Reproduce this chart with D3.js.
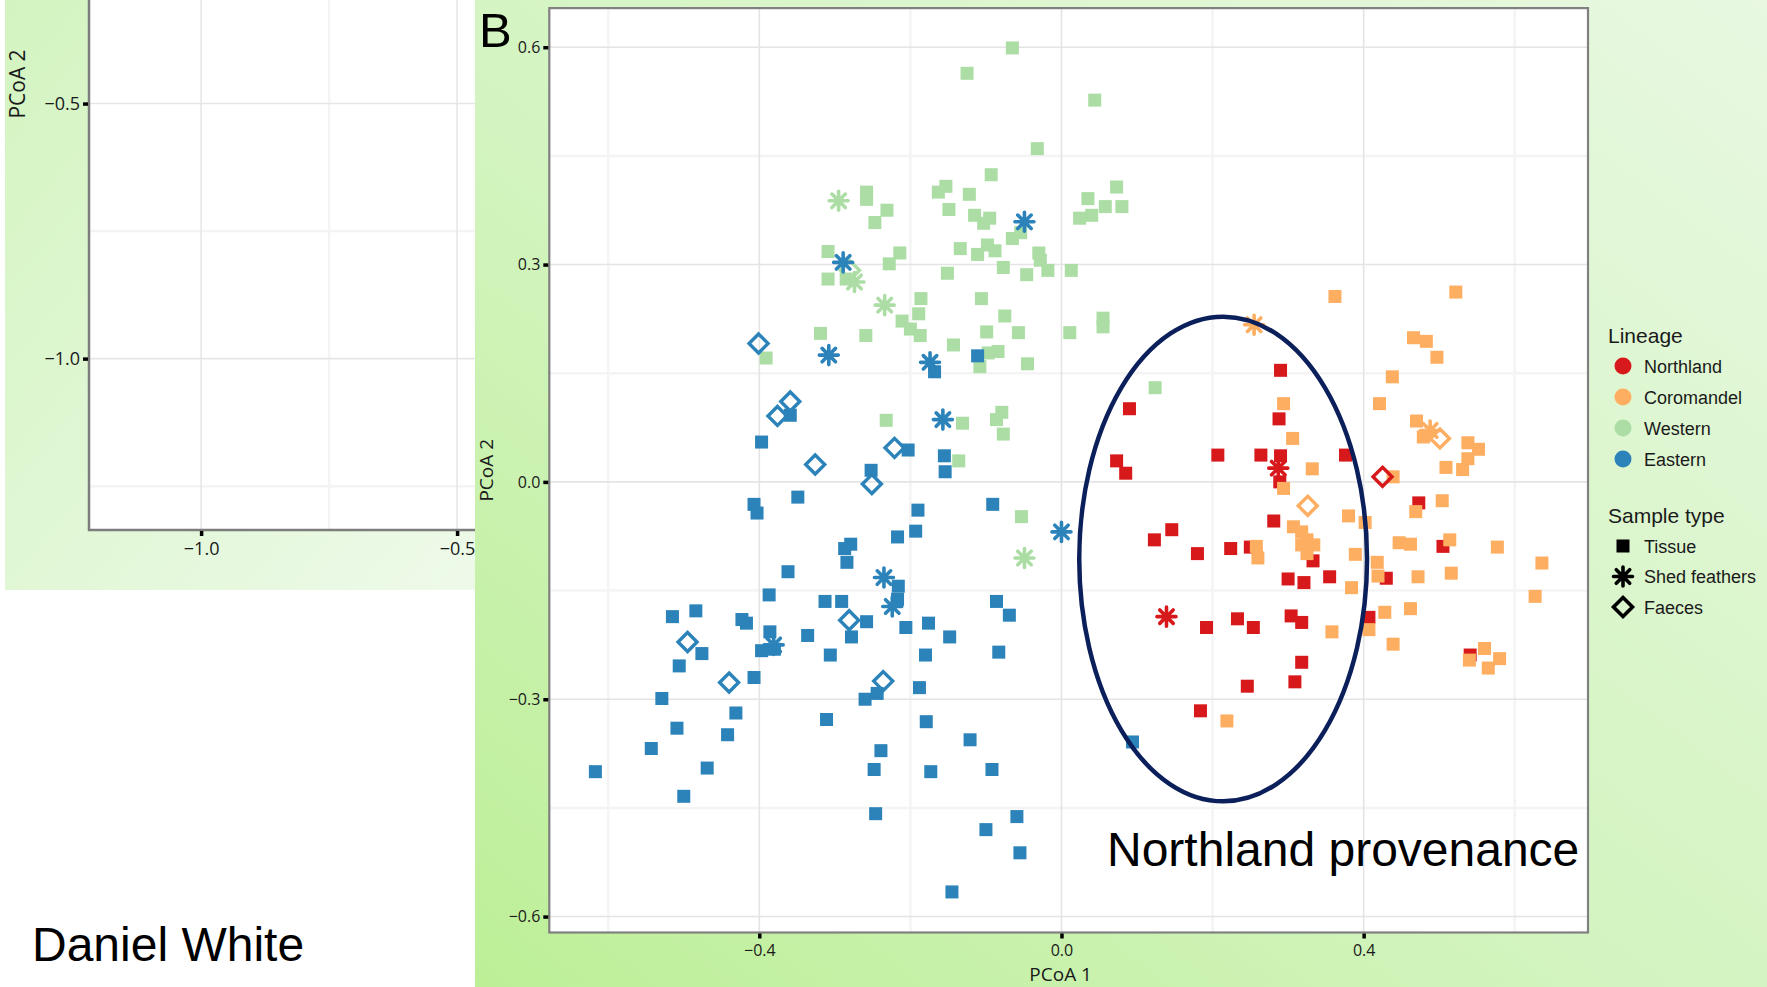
<!DOCTYPE html>
<html>
<head>
<meta charset="utf-8">
<script src="https://cdn.jsdelivr.net/npm/d3@7"></script>
<style>
  body { margin: 0; background: #fff; }
  svg { display: block; }
</style>
</head>
<body>
<svg id="chart" width="1767" height="987"></svg>
<script>
'use strict'

// PCoA coordinates, [PCoA 1, PCoA 2]
const westernTissue = [
  [-0.065, 0.599], [-0.125, 0.564], [0.044, 0.527], [-0.032, 0.460], [-0.093, 0.424],
  [-0.258, 0.400], [-0.258, 0.390], [-0.153, 0.408], [-0.163, 0.400], [-0.122, 0.397],
  [-0.231, 0.375], [-0.149, 0.376], [-0.247, 0.358], [-0.115, 0.368], [-0.095, 0.364],
  [-0.103, 0.357], [0.073, 0.407], [0.035, 0.391], [0.058, 0.380], [0.080, 0.380],
  [0.024, 0.364], [0.040, 0.368], [-0.065, 0.336], [-0.054, 0.344], [-0.134, 0.322],
  [-0.098, 0.327], [-0.088, 0.319], [-0.111, 0.314], [-0.030, 0.316], [-0.028, 0.306],
  [-0.018, 0.292], [0.013, 0.292], [-0.077, 0.296], [-0.046, 0.286], [-0.151, 0.288],
  [-0.214, 0.316], [-0.228, 0.301], [-0.309, 0.318], [-0.309, 0.280], [-0.285, 0.280],
  [-0.186, 0.253], [-0.189, 0.232], [-0.211, 0.222], [-0.200, 0.211], [-0.187, 0.202],
  [-0.106, 0.253], [-0.075, 0.229], [-0.099, 0.207], [-0.057, 0.206], [0.011, 0.206],
  [0.055, 0.226], [0.055, 0.214], [-0.319, 0.205], [-0.259, 0.202], [-0.143, 0.189],
  [-0.391, 0.171], [-0.232, 0.085], [-0.084, 0.180], [-0.097, 0.178], [-0.108, 0.159],
  [-0.045, 0.163], [0.124, 0.130], [-0.079, 0.096], [-0.086, 0.086], [-0.131, 0.081],
  [-0.077, 0.066], [-0.136, 0.029], [-0.053, -0.048]
]
const westernFeathers = [[-0.295, 0.388], [-0.274, 0.276], [-0.234, 0.244], [-0.049, -0.105]]
const westernFaeces = [[-0.280, 0.292]]

const easternTissue = [
  [-0.359, 0.092], [-0.397, 0.055], [-0.203, 0.044], [-0.155, 0.036], [-0.154, 0.014],
  [-0.252, 0.016], [-0.168, 0.152], [-0.407, -0.031], [-0.403, -0.043], [-0.349, -0.021],
  [-0.190, -0.039], [-0.193, -0.068], [-0.217, -0.076], [-0.279, -0.086], [-0.287, -0.092],
  [-0.284, -0.111], [-0.362, -0.124], [-0.216, -0.144], [-0.217, -0.162], [-0.387, -0.156],
  [-0.313, -0.165], [-0.291, -0.165], [-0.484, -0.178], [-0.515, -0.186], [-0.423, -0.190],
  [-0.417, -0.195], [-0.258, -0.193], [-0.176, -0.195], [-0.206, -0.201], [-0.111, 0.174],
  [-0.091, -0.031], [-0.086, -0.165], [-0.069, -0.184], [-0.386, -0.207], [-0.397, -0.233],
  [-0.380, -0.231], [-0.476, -0.237], [-0.506, -0.254], [-0.407, -0.270], [-0.529, -0.299],
  [-0.431, -0.319], [-0.509, -0.340], [-0.442, -0.349], [-0.543, -0.368], [-0.469, -0.395],
  [-0.617, -0.400], [-0.500, -0.434], [-0.336, -0.212], [-0.278, -0.214], [-0.306, -0.239],
  [-0.148, -0.214], [-0.180, -0.239], [-0.083, -0.235], [-0.188, -0.284], [-0.244, -0.292],
  [-0.260, -0.300], [-0.311, -0.328], [-0.179, -0.331], [-0.121, -0.356], [-0.239, -0.371],
  [-0.248, -0.397], [-0.173, -0.400], [-0.092, -0.397], [-0.246, -0.458], [-0.100, -0.480],
  [-0.145, -0.566], [-0.059, -0.462], [-0.055, -0.512], [0.094, -0.359]
]
const easternFeathers = [
  [-0.049, 0.359], [-0.289, 0.303], [-0.308, 0.175], [-0.174, 0.165], [-0.157, 0.086],
  [-0.235, -0.132], [-0.224, -0.172], [0.000, -0.069], [-0.381, -0.225]
]
const easternFaeces = [
  [-0.401, 0.191], [-0.359, 0.111], [-0.376, 0.091], [-0.326, 0.024], [-0.221, 0.047],
  [-0.251, -0.003], [-0.281, -0.191], [-0.495, -0.221], [-0.440, -0.277], [-0.236, -0.275]
]

const northlandTissue = [
  [0.090, 0.101], [0.073, 0.029], [0.085, 0.012], [0.207, 0.037], [0.146, -0.066],
  [0.123, -0.080], [0.180, -0.099], [0.224, -0.092], [0.290, 0.154], [0.288, 0.087],
  [0.264, 0.037], [0.290, 0.036], [0.376, 0.037], [0.289, 0.000], [0.281, -0.054],
  [0.250, -0.090], [0.333, -0.109], [0.473, -0.029], [0.505, -0.089], [0.300, -0.134],
  [0.355, -0.131], [0.321, -0.139], [0.430, -0.133], [0.192, -0.201], [0.233, -0.189],
  [0.254, -0.201], [0.304, -0.185], [0.318, -0.194], [0.407, -0.187], [0.318, -0.249],
  [0.309, -0.276], [0.246, -0.282], [0.184, -0.316], [0.541, -0.239]
]
const northlandFeathers = [[0.287, 0.019], [0.139, -0.186]]
const northlandFaeces = [[0.425, 0.007]]

const coromandelTissue = [
  [0.362, 0.256], [0.522, 0.262], [0.466, 0.199], [0.483, 0.194], [0.497, 0.172],
  [0.438, 0.145], [0.294, 0.108], [0.421, 0.108], [0.306, 0.060], [0.470, 0.084],
  [0.479, 0.062], [0.538, 0.054], [0.552, 0.045], [0.538, 0.032], [0.509, 0.020],
  [0.531, 0.017], [0.332, 0.018], [0.439, 0.007], [0.294, -0.009], [0.504, -0.026],
  [0.469, -0.041], [0.380, -0.047], [0.402, -0.056], [0.307, -0.062], [0.318, -0.069],
  [0.325, -0.080], [0.318, -0.087], [0.334, -0.087], [0.325, -0.099], [0.258, -0.089],
  [0.260, -0.105], [0.389, -0.100], [0.418, -0.111], [0.447, -0.084], [0.462, -0.086],
  [0.514, -0.080], [0.577, -0.090], [0.636, -0.112], [0.419, -0.130], [0.472, -0.131],
  [0.516, -0.126], [0.384, -0.146], [0.627, -0.158], [0.358, -0.207], [0.407, -0.204],
  [0.428, -0.180], [0.462, -0.175], [0.439, -0.224], [0.219, -0.330], [0.540, -0.246],
  [0.560, -0.230], [0.580, -0.244], [0.565, -0.257]
]
const coromandelFeathers = [[0.255, 0.217], [0.488, 0.071]]
const coromandelFaeces = [[0.501, 0.060], [0.326, -0.033]]

const lineages = ['Northland', 'Coromandel', 'Western', 'Eastern']
const lineageColours = ['#d7191c', '#fdae61', '#abdda4', '#2b83ba']
const sampleTypes = ['Tissue', 'Shed feathers', 'Faeces']

const xTicks = [-0.4, 0.0, 0.4]
const xMinor = [-0.6, -0.2, 0.2, 0.6]
const yTicks = [-0.6, -0.3, 0.0, 0.3, 0.6]
const yMinor = [-0.45, -0.15, 0.15, 0.45]

// the cropped panel on the left
const leftXTicks = [-1.0, -0.5]
const leftXMinor = [-0.75]
const leftYTicks = [-0.5, -1.0]
const leftYMinor = [-0.75, -1.25]

// Northland provenance outline: centre and radii in PCoA units
const provenance = { cx: 0.214, cy: -0.1065, rx: 0.1905, ry: 0.3345 }

const colour = d3.scaleOrdinal().domain(lineages).range(lineageColours)

const layers = [
  { lineage: 'Western', type: 'Tissue', pts: westernTissue },
  { lineage: 'Eastern', type: 'Tissue', pts: easternTissue },
  { lineage: 'Northland', type: 'Tissue', pts: northlandTissue },
  { lineage: 'Coromandel', type: 'Tissue', pts: coromandelTissue },
  { lineage: 'Western', type: 'Shed feathers', pts: westernFeathers },
  { lineage: 'Western', type: 'Faeces', pts: westernFaeces },
  { lineage: 'Eastern', type: 'Shed feathers', pts: easternFeathers },
  { lineage: 'Eastern', type: 'Faeces', pts: easternFaeces },
  { lineage: 'Coromandel', type: 'Shed feathers', pts: coromandelFeathers },
  { lineage: 'Coromandel', type: 'Faeces', pts: coromandelFaeces },
  { lineage: 'Northland', type: 'Shed feathers', pts: northlandFeathers },
  { lineage: 'Northland', type: 'Faeces', pts: northlandFaeces }
]

const svg = d3.select('#chart')
const fmt = d3.format('.1f')

// backgrounds
const defs = svg.append('defs')
const gLeft = defs.append('linearGradient').attr('id', 'bgLeft')
  .attr('x1', 0).attr('y1', 0).attr('x2', 1).attr('y2', 1)
gLeft.append('stop').attr('offset', 0).attr('stop-color', '#d3f4c0')
gLeft.append('stop').attr('offset', 1).attr('stop-color', '#eefaea')
const gB = defs.append('linearGradient').attr('id', 'bgB')
  .attr('x1', 0).attr('y1', 1).attr('x2', 1).attr('y2', 0)
gB.append('stop').attr('offset', 0).attr('stop-color', '#bdef97')
gB.append('stop').attr('offset', 0.45).attr('stop-color', '#d3f4c0')
gB.append('stop').attr('offset', 1).attr('stop-color', '#e8f8e1')

svg.append('rect').attr('x', 5).attr('y', 0).attr('width', 475).attr('height', 590)
  .attr('fill', 'url(#bgLeft)')

// ---- left (cropped) panel ----
const xl = d3.scaleLinear().domain([-1.219, -0.465]).range([89, 475])
const yl = d3.scaleLinear().domain([-1.336, -0.297]).range([530, 0])
const left = svg.append('g')
left.append('rect').attr('x', 89).attr('y', 0).attr('width', 386).attr('height', 530).attr('fill', '#fff')
left.selectAll('.lminx').data(leftXMinor).join('line')
  .attr('x1', d => xl(d)).attr('x2', d => xl(d)).attr('y1', 0).attr('y2', 530)
  .attr('stroke', '#f4f4f4').attr('stroke-width', 2.5)
left.selectAll('.lminy').data(leftYMinor).join('line')
  .attr('y1', d => yl(d)).attr('y2', d => yl(d)).attr('x1', 89).attr('x2', 475)
  .attr('stroke', '#f4f4f4').attr('stroke-width', 2.5)
left.selectAll('.lmajx').data(leftXTicks).join('line')
  .attr('x1', d => xl(d)).attr('x2', d => xl(d)).attr('y1', 0).attr('y2', 530)
  .attr('stroke', '#e6e6e6').attr('stroke-width', 1.6)
left.selectAll('.lmajy').data(leftYTicks).join('line')
  .attr('y1', d => yl(d)).attr('y2', d => yl(d)).attr('x1', 89).attr('x2', 475)
  .attr('stroke', '#e6e6e6').attr('stroke-width', 1.6)
left.append('path').attr('d', 'M89,0V530H475').attr('fill', 'none')
  .attr('stroke', '#7d7d7d').attr('stroke-width', 2.5)

const lax = left.append('g').attr('transform', 'translate(0,531)')
  .call(d3.axisBottom(xl).tickValues(leftXTicks).tickFormat(fmt).tickSize(5).tickPadding(6))
const lay = left.append('g').attr('transform', 'translate(88,0)')
  .call(d3.axisLeft(yl).tickValues(leftYTicks).tickFormat(fmt).tickSize(5).tickPadding(3))
for (const a of [lax, lay]) {
  a.select('.domain').remove()
  a.selectAll('line').attr('stroke', '#000').attr('stroke-width', 3.5)
  a.selectAll('text').attr('font-family', 'Open Sans, sans-serif').attr('font-size', 18).attr('fill', '#1a1a1a')
}
left.append('text').attr('transform', 'translate(25,84) rotate(-90)')
  .attr('text-anchor', 'middle').attr('font-family', 'Open Sans, sans-serif')
  .attr('font-size', 21).attr('fill', '#1a1a1a').text('PCoA 2')

svg.append('text').attr('x', 32).attr('y', 961)
  .attr('font-family', 'Liberation Sans, Arial, sans-serif').attr('font-size', 48)
  .attr('fill', '#000').text('Daniel White')

// ---- panel B ----
svg.append('rect').attr('x', 475).attr('y', 0).attr('width', 1292).attr('height', 987)
  .attr('fill', 'url(#bgB)')

const x = d3.scaleLinear().domain([-0.678, 0.697]).range([549.3, 1588])
const y = d3.scaleLinear().domain([-0.622, 0.654]).range([932.5, 8.1])
const [x0, x1] = x.range()
const [y0, y1] = y.range()

const plot = svg.append('g')
plot.append('rect').attr('x', x0).attr('y', y1).attr('width', x1 - x0).attr('height', y0 - y1)
  .attr('fill', '#fff')

plot.selectAll('.minx').data(xMinor).join('line')
  .attr('x1', d => x(d)).attr('x2', d => x(d)).attr('y1', y1).attr('y2', y0)
  .attr('stroke', '#f4f4f4').attr('stroke-width', 2.5)
plot.selectAll('.miny').data(yMinor).join('line')
  .attr('y1', d => y(d)).attr('y2', d => y(d)).attr('x1', x0).attr('x2', x1)
  .attr('stroke', '#f4f4f4').attr('stroke-width', 2.5)
plot.selectAll('.majx').data(xTicks).join('line')
  .attr('x1', d => x(d)).attr('x2', d => x(d)).attr('y1', y1).attr('y2', y0)
  .attr('stroke', '#e4e4e4').attr('stroke-width', 1.6)
plot.selectAll('.majy').data(yTicks).join('line')
  .attr('y1', d => y(d)).attr('y2', d => y(d)).attr('x1', x0).attr('x2', x1)
  .attr('stroke', '#e4e4e4').attr('stroke-width', 1.6)

// markers
const sq = 13
const starR = 9.5
const diaR = 9.5
const starPath = 'M' + [0, 45, 90, 135].map(a => {
  const r = a * Math.PI / 180
  const dx = Math.cos(r) * starR
  const dy = Math.sin(r) * starR
  return `${-dx},${-dy}L${dx},${dy}`
}).join('M')
const diamondPath = `M0,${-diaR}L${diaR},0L0,${diaR}L${-diaR},0Z`

const marks = plot.append('g')
layers.forEach(layer => {
  const c = colour(layer.lineage)
  const g = marks.append('g')
  if (layer.type === 'Tissue') {
    g.selectAll('rect').data(layer.pts).join('rect')
      .attr('x', d => x(d[0]) - sq / 2).attr('y', d => y(d[1]) - sq / 2)
      .attr('width', sq).attr('height', sq).attr('fill', c)
  } else {
    g.selectAll('path').data(layer.pts).join('path')
      .attr('transform', d => `translate(${x(d[0])},${y(d[1])})`)
      .attr('d', layer.type === 'Faeces' ? diamondPath : starPath)
      .attr('fill', 'none')
      .attr('stroke', c)
      .attr('stroke-width', layer.type === 'Faeces' ? 3.4 : 3.6)
      .attr('stroke-linecap', 'round')
  }
})

// provenance outline
plot.append('ellipse')
  .attr('cx', x(provenance.cx)).attr('cy', y(provenance.cy))
  .attr('rx', x(provenance.cx + provenance.rx) - x(provenance.cx))
  .attr('ry', y(provenance.cy - provenance.ry) - y(provenance.cy))
  .attr('fill', 'none').attr('stroke', '#0b1f5b').attr('stroke-width', 4.5)

plot.append('rect').attr('x', x0).attr('y', y1).attr('width', x1 - x0).attr('height', y0 - y1)
  .attr('fill', 'none').attr('stroke', '#808080').attr('stroke-width', 2.2)

const ax = svg.append('g').attr('transform', `translate(0,${y0 + 1})`)
  .call(d3.axisBottom(x).tickValues(xTicks).tickFormat(fmt).tickSize(5).tickPadding(6))
const ay = svg.append('g').attr('transform', `translate(${x0 - 1},0)`)
  .call(d3.axisLeft(y).tickValues(yTicks).tickFormat(fmt).tickSize(5).tickPadding(3))
for (const a of [ax, ay]) {
  a.select('.domain').remove()
  a.selectAll('line').attr('stroke', '#000').attr('stroke-width', 3.5)
  a.selectAll('text').attr('font-family', 'Open Sans, sans-serif').attr('font-size', 16).attr('fill', '#1a1a1a')
}

svg.append('text').attr('x', (x0 + x1) / 2 - 8).attr('y', 981)
  .attr('text-anchor', 'middle').attr('font-family', 'Open Sans, sans-serif')
  .attr('font-size', 19).attr('fill', '#1a1a1a').text('PCoA 1')
svg.append('text').attr('transform', `translate(493,${(y0 + y1) / 2}) rotate(-90)`)
  .attr('text-anchor', 'middle').attr('font-family', 'Open Sans, sans-serif')
  .attr('font-size', 19).attr('fill', '#1a1a1a').text('PCoA 2')

svg.append('text').attr('x', 479).attr('y', 47)
  .attr('font-family', 'Liberation Sans, Arial, sans-serif').attr('font-size', 49)
  .attr('fill', '#000').text('B')

svg.append('text').attr('x', 1107).attr('y', 866)
  .attr('font-family', 'Liberation Sans, Arial, sans-serif').attr('font-size', 48)
  .attr('fill', '#000').text('Northland provenance')

// legends
const legend = svg.append('g').attr('font-family', 'Liberation Sans, Arial, sans-serif')
legend.append('text').attr('x', 1608).attr('y', 343).attr('font-size', 21).attr('fill', '#1a1a1a').text('Lineage')
const lin = legend.selectAll('.lin').data(lineages).join('g')
  .attr('transform', (d, i) => `translate(1623,${366 + i * 31})`)
lin.append('circle').attr('r', 8.5).attr('fill', d => colour(d))
lin.append('text').attr('x', 21).attr('y', 6.5).attr('font-size', 18).attr('fill', '#1a1a1a').text(d => d)

legend.append('text').attr('x', 1608).attr('y', 523).attr('font-size', 21).attr('fill', '#1a1a1a').text('Sample type')
const st = legend.selectAll('.st').data(sampleTypes).join('g')
  .attr('transform', (d, i) => `translate(1623,${546 + i * 30.5})`)
st.each(function (d) {
  const g = d3.select(this)
  if (d === 'Tissue') {
    g.append('rect').attr('x', -6.5).attr('y', -6.5).attr('width', 13).attr('height', 13).attr('fill', '#000')
  } else {
    g.append('path').attr('d', d === 'Faeces' ? diamondPath : starPath)
      .attr('fill', 'none').attr('stroke', '#000').attr('stroke-width', 3.6).attr('stroke-linecap', 'round')
  }
})
st.append('text').attr('x', 21).attr('y', 6.5).attr('font-size', 18).attr('fill', '#1a1a1a').text(d => d)
</script>
</body>
</html>
